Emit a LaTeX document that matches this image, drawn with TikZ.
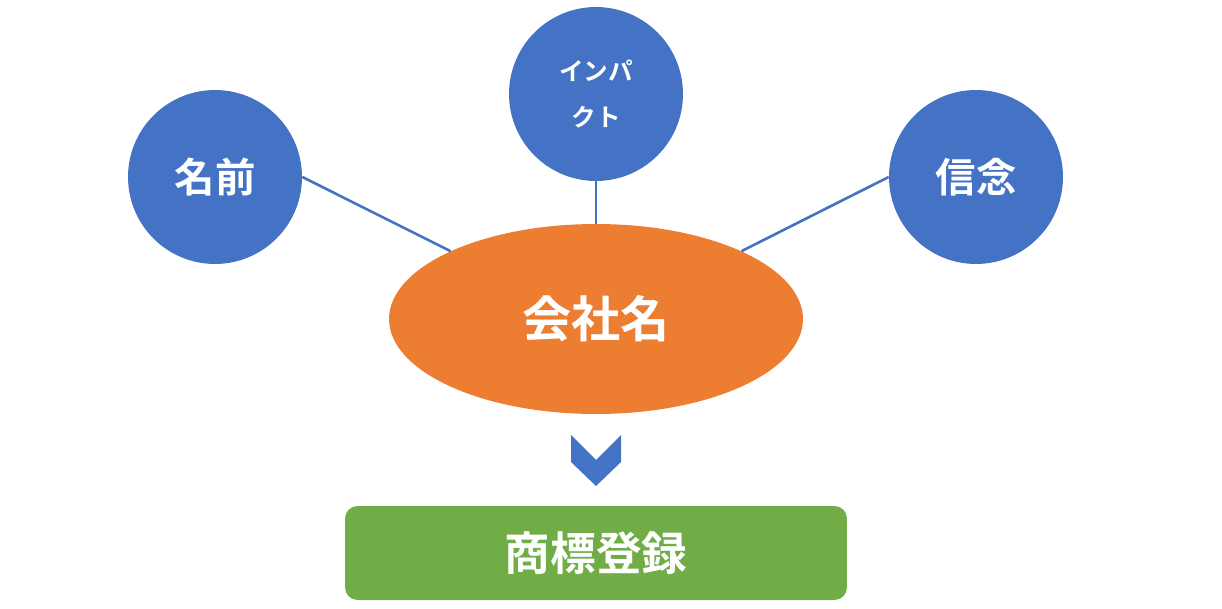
\documentclass[tikz,border=0pt]{standalone}
\usepackage{fontspec}
\setmainfont{Noto Sans CJK JP}[BoldFont={Noto Sans CJK JP Bold}]
\usepackage{xcolor}
\definecolor{cblue}{HTML}{4472C4}
\definecolor{corange}{HTML}{ED7D31}
\definecolor{cgreen}{HTML}{70AD47}
\usetikzlibrary{shapes.geometric}

\begin{document}
\begin{tikzpicture}[
        x=0.02cm, y=-0.02cm,
        bubble/.style={circle, fill=cblue, draw=none, minimum size=3.48cm, inner sep=0pt, text=white, font=\bfseries},
        link/.style={draw=cblue, line width=1.5pt},
    ]
        \useasboundingbox (0,0) rectangle (1222,608);
        \node[bubble, font=\bfseries\fontsize{23}{26}\selectfont] (nm) at (215,177) {名前};
        \node[bubble, font=\bfseries\fontsize{14}{26}\selectfont, align=center] (imp) at (596,94) {インパ\\クト};
        \node[bubble, font=\bfseries\fontsize{23}{26}\selectfont] (sh) at (976,177) {信念};
        \node[ellipse, fill=corange, minimum width=8.28cm, minimum height=3.8cm, inner sep=0pt,
              text=white, font=\bfseries\fontsize{28}{32}\selectfont] (ell) at (596,319) {会社名};
        \draw[link] (nm.east) -- (ell.155);
        \draw[link] (imp.south) -- (ell.north);
        \draw[link] (sh.west) -- (ell.25);
        \fill[cblue] (571,435) -- (596,460) -- (621,435) -- (621,462) -- (596,486) -- (571,462) -- cycle;
        \node[fill=cgreen, rounded corners=0.25cm, minimum width=10.04cm, minimum height=1.88cm, inner sep=0pt,
              text=white, font=\bfseries\fontsize{26}{30}\selectfont] (tm) at (596,553) {商標登録};
    \end{tikzpicture}
\end{document}
